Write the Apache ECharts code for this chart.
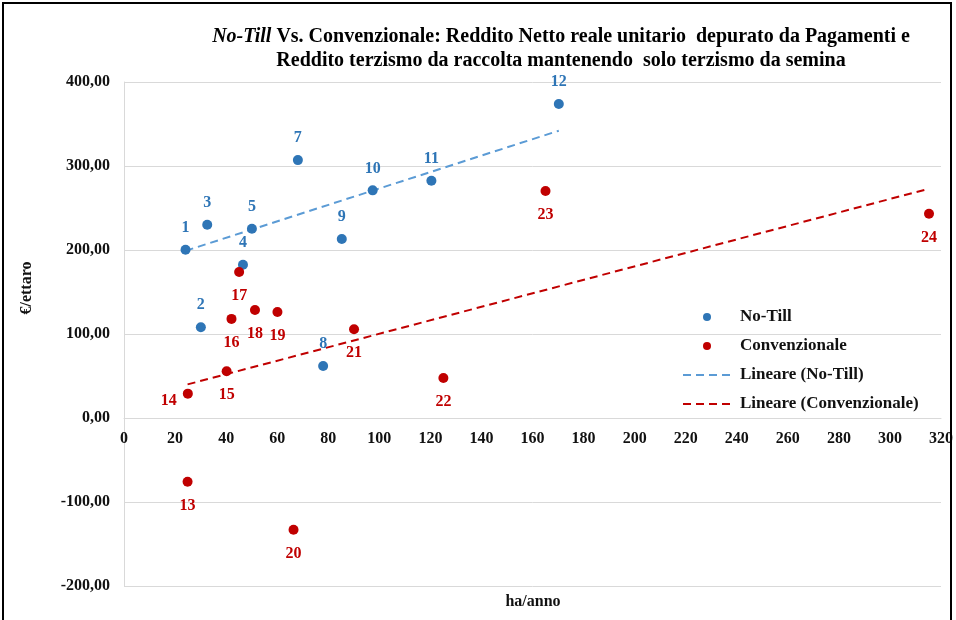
<!DOCTYPE html>
<html>
<head>
<meta charset="utf-8">
<script src="https://cdn.jsdelivr.net/npm/echarts@6/dist/echarts.min.js"></script>
<style>html,body{margin:0;padding:0;background:#fff;}#c{width:956px;height:620px;}</style>
</head>
<body>
<div id="c"></div>
<script>
// ---- data ----
const noTillIds = ['1','2','3','4','5','7','8','9','10','11','12'];
const noTillX = [24.1, 30.1, 32.6, 46.6, 50.1, 68.1, 78.0, 85.3, 97.4, 120.4, 170.3];
const noTillY = [200.4, 108, 230, 182.5, 225.4, 307, 62, 213, 271, 282.5, 373.8];

const convIds = ['13','14','15','16','17','18','19','20','21','22','23','24'];
const convX = [24.9, 25.0, 40.2, 42.1, 45.1, 51.3, 60.1, 66.4, 90.1, 125.1, 165.1, 315.3];
const convY = [-75.8, 29, 55.6, 118, 173.8, 128.6, 126.2, -133, 105.6, 47.6, 270.2, 243.2];

// trend line end points (Lineare)
const noTillTrendX = [24.1, 170.3];
const noTillTrendY = [199, 342];
const convTrendX = [24.9, 315.3];
const convTrendY = [40, 273];

const xTicks = {min: 0, max: 320, interval: 20};
const yTicks = {min: -200, max: 400, interval: 100};

const seriesNames = ['No-Till', 'Convenzionale', 'Lineare (No-Till)', 'Lineare (Convenzionale)'];

// ---- chart ----
const FONT = "'Liberation Serif', 'Times New Roman', serif";
const BLUE = '#2E75B6', RED = '#C00000', BLUE_T = '#5B9BD5';

const chart = echarts.init(document.getElementById('c'), null, {renderer: 'canvas'});

const noTillData = noTillIds.map((id, i) => ({name: id, value: [noTillX[i], noTillY[i]]}));
const convData = convIds.map((id, i) => {
  const d = {name: id, value: [convX[i], convY[i]]};
  if (id === '14') d.label = {position: 'left', distance: 6, offset: [0, 7]};
  return d;
});
const pairs = (xs, ys) => xs.map((x, i) => [x, ys[i]]);

const labelFont = {fontFamily: FONT, fontWeight: 'bold', fontSize: 16};

// grid geometry
const GRID = {left: 124, right: 13, top: 82, bottom: 34};
const plotH = 620 - GRID.top - GRID.bottom;
// x axis sits on the y = 0 line
const zeroOffset = -plotH * (0 - yTicks.min) / (yTicks.max - yTicks.min);

chart.setOption({
  backgroundColor: '#fff',
  animation: false,
  grid: Object.assign({containLabel: false}, GRID),
  xAxis: {
    type: 'value', min: xTicks.min, max: xTicks.max, interval: xTicks.interval,
    position: 'bottom', offset: zeroOffset,
    axisLine: {show: true, onZero: false, lineStyle: {color: '#D9D9D9', width: 1}},
    axisTick: {show: false},
    splitLine: {show: false},
    axisLabel: {margin: 13, color: '#111', fontFamily: FONT, fontWeight: 'bold', fontSize: 16}
  },
  yAxis: {
    type: 'value', min: yTicks.min, max: yTicks.max, interval: yTicks.interval,
    axisLine: {show: true, onZero: false, lineStyle: {color: '#D9D9D9', width: 1}},
    axisTick: {show: false},
    splitLine: {show: true, lineStyle: {color: '#D9D9D9', width: 1}},
    axisLabel: {
      margin: 14, color: '#111', fontFamily: FONT, fontWeight: 'bold', fontSize: 16,
      formatter: v => v.toFixed(2).replace('.', ',')
    }
  },
  legend: {
    orient: 'vertical', left: 682, top: 308, padding: 0,
    itemWidth: 48, itemHeight: 8, itemGap: 11,
    textStyle: {fontFamily: FONT, fontWeight: 'bold', fontSize: 17, color: '#111', lineHeight: 18, padding: [0, 0, 0, 4]},
    data: [
      seriesNames[0], seriesNames[1],
      {name: seriesNames[2], itemStyle: {opacity: 0}},
      {name: seriesNames[3], itemStyle: {opacity: 0}}
    ]
  },
  series: [
    {
      name: seriesNames[2], type: 'line', data: pairs(noTillTrendX, noTillTrendY),
      symbol: 'none', z: 1, silent: true,
      lineStyle: {color: BLUE_T, width: 2, type: [8, 5]}, itemStyle: {color: BLUE_T}
    },
    {
      name: seriesNames[3], type: 'line', data: pairs(convTrendX, convTrendY),
      symbol: 'none', z: 1, silent: true,
      lineStyle: {color: RED, width: 2, type: [8, 5]}, itemStyle: {color: RED}
    },
    {
      name: seriesNames[0], type: 'scatter', data: noTillData, symbolSize: 10, z: 3,
      itemStyle: {color: BLUE, opacity: 1},
      label: Object.assign({show: true, position: 'top', distance: 9, color: BLUE, formatter: p => p.name}, labelFont)
    },
    {
      name: seriesNames[1], type: 'scatter', data: convData, symbolSize: 10, z: 3,
      itemStyle: {color: RED, opacity: 1},
      label: Object.assign({show: true, position: 'bottom', distance: 11, color: RED, formatter: p => p.name}, labelFont)
    }
  ],
  graphic: [
    {
      type: 'rect', z: 100, silent: true,
      shape: {x: 3, y: 3, width: 948, height: 640},
      style: {fill: 'none', stroke: '#000', lineWidth: 2}
    },
    {
      type: 'text', x: 561, y: 25, z: 10,
      style: {
        text: '{i|No-Till}{n| Vs. Convenzionale: Reddito Netto reale unitario  depurato da Pagamenti e}\n{n|Reddito terzismo da raccolta mantenendo  solo terzismo da semina}',
        align: 'center', verticalAlign: 'top',
        rich: {
          i: {fontFamily: FONT, fontWeight: 'bold', fontStyle: 'italic', fontSize: 20, lineHeight: 24, fill: '#000'},
          n: {fontFamily: FONT, fontWeight: 'bold', fontSize: 20, lineHeight: 24, fill: '#000'}
        }
      }
    },
    {
      type: 'text', x: 533, y: 602, z: 10,
      style: {text: 'ha/anno', font: "bold 16px " + FONT, fill: '#111', align: 'center', verticalAlign: 'middle'}
    },
    {
      type: 'text', x: 27, y: 288, z: 10, rotation: Math.PI / 2,
      style: {text: '€/ettaro', font: "bold 16px " + FONT, fill: '#111', align: 'center', verticalAlign: 'middle'}
    }
  ]
});
</script>
</body>
</html>
